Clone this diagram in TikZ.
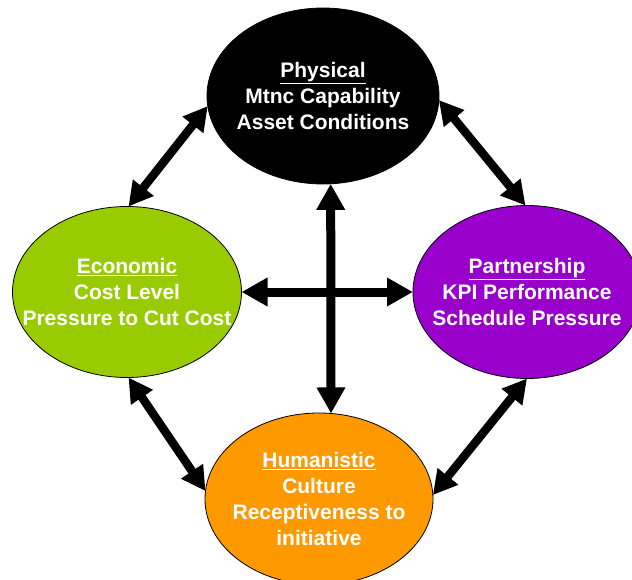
\documentclass[tikz,border=0pt]{standalone}
\usepackage{fontspec}
\setmainfont{Liberation Sans}
\usetikzlibrary{arrows.meta,shapes.geometric}
\definecolor{ecogreen}{HTML}{99CC00}
\definecolor{partpurple}{HTML}{9900CC}
\definecolor{humorange}{HTML}{FF9900}
\tikzset{
  blob/.style={ellipse, draw=black, line width=0.8pt, inner sep=0pt, outer sep=0pt},
  blobtext/.style={inner sep=0pt, text=white, align=center,
    font=\fontsize{21}{26}\selectfont\bfseries},
  bigarrow/.style={line width=9pt, {Triangle[width=27pt,length=26pt]}-{Triangle[width=27pt,length=26pt]}},
  diagarrow/.style={line width=8.5pt, {Triangle[width=25pt,length=24pt]}-{Triangle[width=25pt,length=24pt]}}
}
\begin{document}
\begin{tikzpicture}[x=1pt,y=-1pt]
\useasboundingbox (0,0) rectangle (632,580);
\clip (0,0) rectangle (632,580);
\fill[white] (0,0) rectangle (632,580);
\node[blob, fill=black, minimum width=232pt, minimum height=176pt] (phys) at (323,96) {};
\node[blobtext] (physT) at (phys.center)
  {\underline{Physical}\\Mtnc Capability\\Asset Conditions};
\node[blob, fill=ecogreen, minimum width=229pt, minimum height=171pt] (econ) at (127,292) {};
\node[blobtext] (econT) at (econ.center)
  {\underline{Economic}\\Cost Level\\Pressure to Cut Cost};
\node[blob, fill=partpurple, minimum width=228pt, minimum height=173pt] (part) at (527,292) {};
\node[blobtext] (partT) at (part.center)
  {\underline{Partnership}\\KPI Performance\\Schedule Pressure};
\node[blob, fill=humorange, minimum width=228pt, minimum height=172pt] (hum) at (319,499) {};
\node[blobtext] (humT) at (hum.center)
  {\underline{Humanistic}\\Culture\\Receptiveness to\\initiative};
\draw[bigarrow] (phys.275) -- (hum.82);
\draw[bigarrow] (econ.0) -- (part.180);
\draw[diagarrow] (phys.185) -- (econ.89);
\draw[diagarrow] (phys.358) -- (part.91);
\draw[diagarrow] (econ.271) -- (hum.176);
\draw[diagarrow] (part.270) -- (hum.2);
\end{tikzpicture}
\end{document}
